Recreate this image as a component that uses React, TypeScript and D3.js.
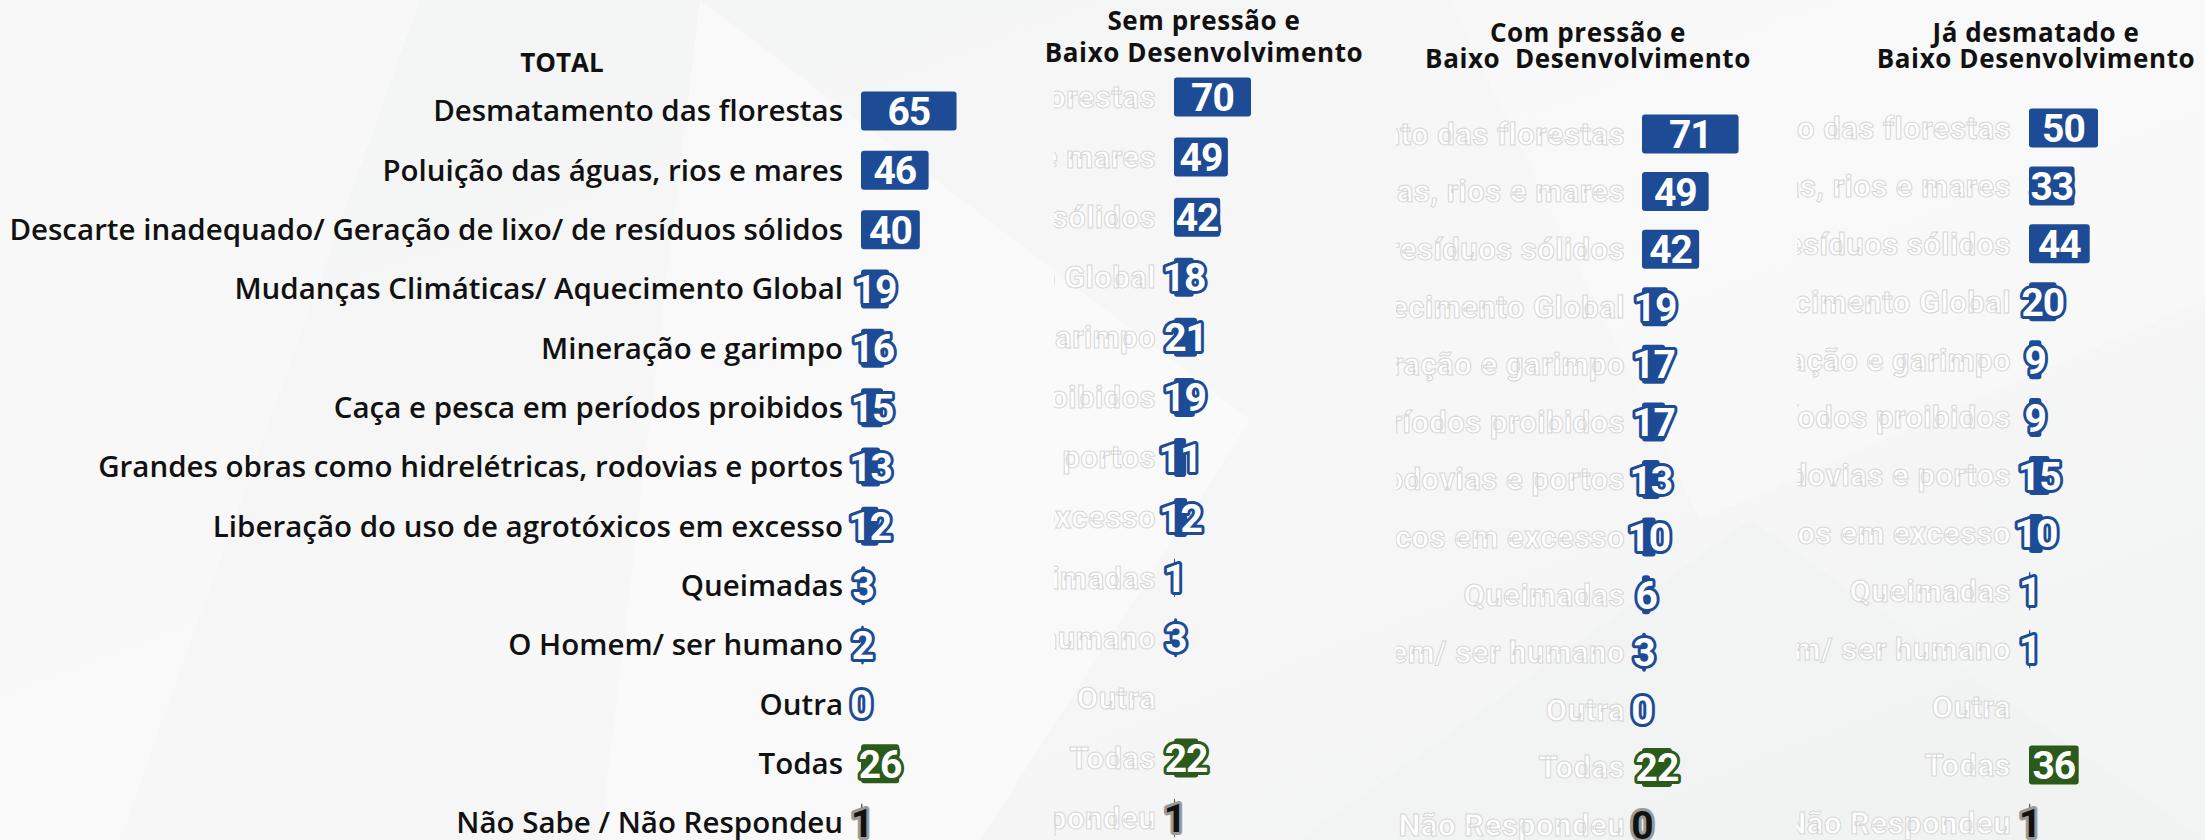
import React from "react";
import * as d3 from "d3";

const W = 2205;
const H = 840;

const categories = [
  "Desmatamento das florestas",
  "Poluição das águas, rios e mares",
  "Descarte inadequado/ Geração de lixo/ de resíduos sólidos",
  "Mudanças Climáticas/ Aquecimento Global",
  "Mineração e garimpo",
  "Caça e pesca em períodos proibidos",
  "Grandes obras como hidrelétricas, rodovias e portos",
  "Liberação do uso de agrotóxicos em excesso",
  "Queimadas",
  "O Homem/ ser humano",
  "Outra",
  "Todas",
  "Não Sabe / Não Respondeu",
];

const total = [65, 46, 40, 19, 16, 15, 13, 12, 3, 2, 0, 26, 1];
const semPressao = [70, 49, 42, 18, 21, 19, 11, 12, 1, 3, null, 22, 1];
const comPressao = [71, 49, 42, 19, 17, 17, 13, 10, 6, 3, 0, 22, 0];
const jaDesmatado = [50, 33, 44, 20, 9, 9, 15, 10, 1, 1, null, 36, 1];

const panelTitles = [
  ["TOTAL"],
  ["Sem pressão e", "Baixo Desenvolvimento"],
  ["Com pressão e", "Baixo  Desenvolvimento"],
  ["Já desmatado e", "Baixo Desenvolvimento"],
];

const BLUE = "#1d4b95";
const GREEN = "#2b5a1b";

const panels = [
  { values: total, x0: 861, k: 1.47, y0: 111, y1: 823, labelRight: 843, clipLeft: 0, ghost: false, titleX: 562, titleY: [72] },
  { values: semPressao, x0: 1174, k: 1.1, y0: 97, y1: 818, labelRight: 1156, clipLeft: 1054, ghost: true, titleX: 1204, titleY: [30, 62] },
  { values: comPressao, x0: 1642, k: 1.36, y0: 134, y1: 825, labelRight: 1625, clipLeft: 1396, ghost: true, titleX: 1588, titleY: [42, 68] },
  { values: jaDesmatado, x0: 2029, k: 1.38, y0: 128, y1: 823, labelRight: 2011, clipLeft: 1797, ghost: true, titleX: 2036, titleY: [42, 68] },
];

const barColor = (i: number) =>
  i === 11 ? GREEN : i === 12 ? "#4a4a4a" : BLUE;

const Panel = ({ p, idx }: { p: (typeof panels)[number]; idx: number }) => {
  const x = d3.scaleLinear().domain([0, 100]).range([p.x0, p.x0 + 100 * p.k]);
  const y = d3.scalePoint<string>().domain(categories).range([p.y0, p.y1]);
  const barH = 39;
  const clipId = `clip-${idx}`;
  return (
    <g>
      <defs>
        <clipPath id={clipId}>
          <rect x={p.clipLeft} y={0} width={p.labelRight - p.clipLeft + 10} height={H} />
        </clipPath>
      </defs>
      {panelTitles[idx].map((t, j) => (
        <text
          key={j}
          x={p.titleX}
          y={p.titleY[j]}
          textAnchor="middle"
          fontFamily="Open Sans"
          fontWeight={700}
          fontSize={idx === 0 ? 26 : 26}
          letterSpacing={idx === 0 ? 0 : 0.6}
          fill="#111"
          style={{ whiteSpace: "pre" }}
        >
          {t}
        </text>
      ))}
      <g clipPath={`url(#${clipId})`}>
        {categories.map((c) => (
          <text
            key={c}
            x={p.labelRight}
            y={y(c)!}
            dy="0.35em"
            textAnchor="end"
            fontFamily={p.ghost ? "Roboto" : "Open Sans"}
            fontWeight={p.ghost ? 700 : 600}
            fontSize={p.ghost ? 31 : 29.5}
            letterSpacing={p.ghost ? 0.5 : 0}
            fill={p.ghost ? "#ffffff" : "#111"}
            stroke={p.ghost ? "#d6d6d6" : "none"}
            strokeWidth={p.ghost ? 1 : 0}
          >
            {c}
          </text>
        ))}
      </g>
      {p.values.map((v, i) =>
        v === null ? null : (
          <g key={i}>
            <rect
              x={x(0)}
              y={y(categories[i])! - barH / 2}
              width={Math.max(0, x(v) - x(0))}
              height={barH}
              rx={3}
              fill={barColor(i)}
            />
            <text
              x={(x(0) + x(v)) / 2}
              y={y(categories[i])!}
              dy="0.36em"
              textAnchor="middle"
              fontFamily="Roboto"
              fontWeight={700}
              fontSize={39}
              letterSpacing={-1}
              fill={i === 12 ? "#111" : "#fff"}
              stroke={i === 12 ? "#9a9a9a" : barColor(i)}
              strokeWidth={6}
              strokeLinejoin="round"
              paintOrder="stroke"
            >
              {v}
            </text>
          </g>
        )
      )}
    </g>
  );
};

const App = () => {
  return (
    <svg
      width={W}
      height={H}
      style={{ position: "absolute", left: 0, top: 0, display: "block" }}
    >
      <defs>
        <linearGradient id="bg" x1="0" y1="0" x2="1" y2="1">
          <stop offset="0" stopColor="#f3f4f4" />
          <stop offset="0.5" stopColor="#f7f7f7" />
          <stop offset="1" stopColor="#f2f3f3" />
        </linearGradient>
      </defs>
      <rect width={W} height={H} fill="url(#bg)" />
      {/* faint background facets */}
      <polygon points="0,0 420,0 120,840 0,840" fill="#fafafa" opacity={0.7} />
      <polygon points="700,0 1250,420 980,840 600,840" fill="#fbfbfb" opacity={0.6} />
      <polygon points="1450,0 2205,0 2205,300 1700,520" fill="#fafafa" opacity={0.6} />
      <polygon points="1300,840 1750,520 2205,840" fill="#f0f1f1" opacity={0.6} />
      {panels.map((p, i) => (
        <Panel key={i} p={p} idx={i} />
      ))}
    </svg>
  );
};

export default App;
